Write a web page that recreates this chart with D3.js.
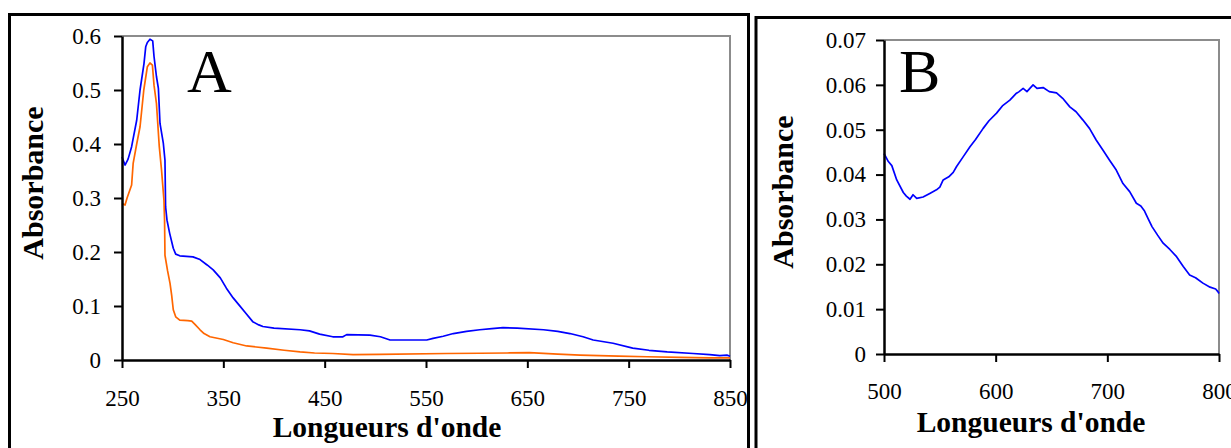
<!DOCTYPE html>
<html><head><meta charset="utf-8">
<script src="https://cdn.jsdelivr.net/npm/d3@7"></script>
<style>
html,body{margin:0;padding:0;background:#fff;}
svg{display:block;}
text{font-family:"Liberation Serif","Times New Roman",serif;fill:#000;}
</style></head>
<body>
<svg id="c" width="1231" height="448"></svg>
<script>
// ---- Data ----
const wlA_blue = [250,253,256,259.5,261,264.5,267.8,271.7,273.4,275,277.6,280.3,281.6,284,285.9,287.5,290.8,292.4,293,294.4,297,300.6,303,307,320,327,334,340,347,353,359.7,365,372,379,385,389,400,425.7,435,445,458,468,471.7,494.7,505,514.5,550.7,557,567,577,590,603,615,626,640,666,680,692,705,715,734.6,754,770,788,813.6,830,840,847,850];
const absA_blue = [0.376,0.361,0.372,0.395,0.41,0.444,0.50,0.549,0.58,0.588,0.594,0.591,0.562,0.525,0.503,0.438,0.401,0.37,0.284,0.259,0.235,0.207,0.196,0.193,0.191,0.186,0.176,0.167,0.152,0.133,0.115,0.103,0.087,0.071,0.065,0.062,0.059,0.056,0.054,0.048,0.043,0.043,0.047,0.046,0.043,0.037,0.037,0.04,0.044,0.049,0.053,0.056,0.058,0.060,0.059,0.056,0.053,0.049,0.043,0.037,0.031,0.022,0.018,0.015,0.012,0.010,0.008,0.009,0.007];

const wlA_orange = [250,253,255,259.5,261,264.5,267.8,271.5,275,277.6,280,281.6,284,286.8,289,291.4,292,292.4,295,297.4,299,300.6,303,307,315,318.8,322,327,331,336.8,350,359.7,373,392.8,410,425.7,440,458,478,504.6,570,603,630,652,680,702,740,768,801,830,850];
const absA_orange = [0.29,0.287,0.30,0.324,0.364,0.40,0.432,0.50,0.543,0.55,0.546,0.509,0.475,0.395,0.352,0.296,0.259,0.194,0.165,0.142,0.12,0.093,0.08,0.074,0.073,0.072,0.066,0.056,0.049,0.043,0.038,0.032,0.026,0.022,0.018,0.015,0.013,0.012,0.01,0.0105,0.012,0.0125,0.013,0.0135,0.011,0.009,0.007,0.006,0.005,0.004,0.004];

const wlB = [500,503.9,507,511.4,517.3,520,523.3,526,529.3,535,541,547,550,553,558,562,565,571,577,582,588.8,594,600.8,606,612.7,618,621,624.6,628,633.5,637,642.5,648,654.5,660,666.4,672,678,684,690,696,702,708,714,720,726,730,733,736.5,740,745,750,756,762,768,773.7,779,785.6,792,797,799,800];
const absB = [0.0447,0.0429,0.042,0.0388,0.036,0.0352,0.0345,0.0355,0.0347,0.035,0.0358,0.0366,0.0372,0.0388,0.0395,0.0405,0.0418,0.044,0.0462,0.0478,0.0503,0.052,0.0537,0.0553,0.0566,0.058,0.0585,0.0592,0.0585,0.060,0.0592,0.0594,0.0585,0.0582,0.057,0.0551,0.054,0.0522,0.0503,0.0477,0.0455,0.0432,0.041,0.038,0.0362,0.0336,0.0330,0.032,0.0302,0.0284,0.0265,0.0247,0.0233,0.0217,0.0195,0.0176,0.017,0.0158,0.0149,0.0145,0.0139,0.0135];

const xTicksA = [250,350,450,550,650,750,850];
const yTicksA = [0,0.1,0.2,0.3,0.4,0.5,0.6];
const xTicksB = [500,600,700,800];
const yTicksB = [0,0.01,0.02,0.03,0.04,0.05,0.06,0.07];
const xTitle = "Longueurs d'onde";
const yTitle = "Absorbance";

// ---- Drawing ----
const svg = d3.select("#c");
const SERIF = '"Liberation Serif","Times New Roman",serif';

// panel frames
svg.append("rect").attr("x",9.5).attr("y",14.5).attr("width",739).attr("height",460)
  .attr("fill","none").attr("stroke","#000").attr("stroke-width",3);
svg.append("rect").attr("x",756).attr("y",17.5).attr("width",500).attr("height",460)
  .attr("fill","none").attr("stroke","#000").attr("stroke-width",3);

function panel(cfg){
  const x = d3.scaleLinear().domain(cfg.xd).range([cfg.x0,cfg.x1]);
  const y = d3.scaleLinear().domain(cfg.yd).range([cfg.y0,cfg.y1]);
  const g = svg.append("g");
  // grey plot-area border (top & right)
  g.append("path").attr("d",`M${cfg.x0},${cfg.y1}H${cfg.x1}V${cfg.y0}`)
    .attr("fill","none").attr("stroke","#8c8c8c").attr("stroke-width",2);
  // series
  cfg.series.forEach(s=>{
    const pts = s.x.map((v,i)=>[v,s.y[i]]);
    g.append("path").datum(pts)
      .attr("d",d3.line().x(d=>x(d[0])).y(d=>y(d[1])))
      .attr("fill","none").attr("stroke",s.color).attr("stroke-width",1.7)
      .attr("stroke-linejoin","round");
  });
  // axes
  const ax = g.append("g").attr("transform",`translate(0,${cfg.y0})`)
    .call(d3.axisBottom(x).tickValues(cfg.xt).tickFormat(d3.format("d")).tickSize(8).tickSizeOuter(0).tickPadding(cfg.xpad));
  const ay = g.append("g").attr("transform",`translate(${cfg.x0},0)`)
    .call(d3.axisLeft(y).tickValues(cfg.yt).tickFormat(d=>String(+d.toFixed(2))).tickSize(8).tickSizeOuter(0).tickPadding(cfg.ypad));
  [ax,ay].forEach(a=>{
    a.attr("font-size",23).attr("font-family",SERIF);
    a.select(".domain").attr("stroke","#000").attr("stroke-width",2.5);
    a.selectAll(".tick line").attr("stroke","#000").attr("stroke-width",2);
    a.selectAll(".tick text").style("font-family",SERIF).style("font-size","23px").attr("fill","#000");
  });
  // titles
  g.append("text").attr("x",cfg.xtx).attr("y",cfg.xty).attr("text-anchor","middle")
    .style("font-family",SERIF).style("font-size","29.5px").style("font-weight","bold").text(xTitle);
  g.append("text").attr("transform",`translate(${cfg.ytx},${cfg.yty}) rotate(-90)`)
    .attr("text-anchor","middle")
    .style("font-family",SERIF).style("font-size","30px").style("font-weight","bold").text(yTitle);
  g.append("text").attr("x",cfg.lx).attr("y",cfg.ly)
    .style("font-family",SERIF).style("font-size","62px").text(cfg.label);
}

panel({xd:[250,850],yd:[0,0.6],x0:122,x1:730,y0:360,y1:36,xt:xTicksA,yt:yTicksA,xpad:22,ypad:13,
  series:[{x:wlA_blue,y:absA_blue,color:"#0000ff"},{x:wlA_orange,y:absA_orange,color:"#ff6600"}],
  xtx:387,xty:437,ytx:43,yty:183,lx:187,ly:92,label:"A"});
panel({xd:[500,800],yd:[0,0.07],x0:884,x1:1219,y0:354,y1:40,xt:xTicksB,yt:yTicksB,xpad:21,ypad:10,
  series:[{x:wlB,y:absB,color:"#0000ff"}],
  xtx:1031,xty:432,ytx:793,yty:192,lx:899,ly:92,label:"B"});
</script>
</body></html>
